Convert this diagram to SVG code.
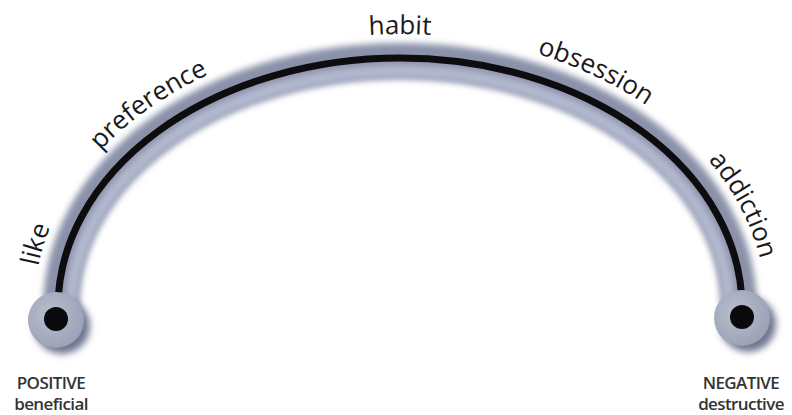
<svg xmlns="http://www.w3.org/2000/svg" width="792" height="415" viewBox="0 0 792 415">
<style>
.lbl{font-family:"Open Sans","DejaVu Sans",sans-serif;font-size:26px;fill:#1a1a1a}
.cap{font-family:"Open Sans","DejaVu Sans",sans-serif;font-size:17px;font-weight:600;fill:#333333;text-anchor:middle;letter-spacing:-0.6px}
.band{fill:none;stroke:#8a91a9;stroke-width:36;filter:url(#soft)}
.hi{fill:none;stroke:#b3b9cf;stroke-width:12;filter:url(#soft)}
.core{fill:none;stroke:#0d0d10;stroke-width:7}
</style>
<defs>
<filter id="soft" x="-10%" y="-10%" width="120%" height="130%"><feGaussianBlur stdDeviation="3"/></filter>
<filter id="shadow" x="-50%" y="-50%" width="200%" height="200%"><feGaussianBlur stdDeviation="3.5"/></filter>
<radialGradient id="disc" cx="40%" cy="40%" r="65%">
<stop offset="0" stop-color="#b9bfcd"/>
<stop offset="1" stop-color="#9aa1b5"/>
</radialGradient>
<path id="tp" d="M 34,320 L 34,308 A 366 274 0 0 1 766 308 L 766,320"/>
</defs>
<rect width="792" height="415" fill="#ffffff"/>
<g id="connectors">
<path class="band" d="M 61,322 L 61,308 A 339 247 0 0 1 739 308 L 739,322"/>
<path class="hi" d="M 71,322 L 71,308 A 329 237 0 0 1 729 308 L 729,322"/>
<path class="core" d="M 58,322 L 58,308 A 342 250 0 0 1 742 308 L 742,322"/>
</g>
<g id="labels">
<text class="lbl"><textPath href="#tp" startOffset="7.2%" text-anchor="middle">like</textPath></text>
<text class="lbl"><textPath href="#tp" startOffset="24.5%" text-anchor="middle">preference</textPath></text>
<text class="lbl"><textPath href="#tp" startOffset="50%" text-anchor="middle">habit</textPath></text>
<text class="lbl"><textPath href="#tp" startOffset="69.3%" text-anchor="middle">obsession</textPath></text>
<text class="lbl"><textPath href="#tp" startOffset="88.6%" text-anchor="middle">addiction</textPath></text>
</g>
<g id="node-positive">
<circle cx="62" cy="326" r="28" fill="#6e7690" filter="url(#shadow)"/>
<circle cx="56" cy="320" r="28" fill="url(#disc)"/>
<circle cx="56" cy="319" r="12" fill="#0a0a0c"/>
<text class="cap" x="51" y="389">POSITIVE</text>
<text class="cap" x="51" y="410">beneficial</text>
</g>
<g id="node-negative">
<circle cx="748" cy="324" r="28" fill="#6e7690" filter="url(#shadow)"/>
<circle cx="742" cy="318" r="28" fill="url(#disc)"/>
<circle cx="742" cy="317" r="12" fill="#0a0a0c"/>
<text class="cap" x="741" y="389">NEGATIVE</text>
<text class="cap" x="741" y="410">destructive</text>
</g>
</svg>
